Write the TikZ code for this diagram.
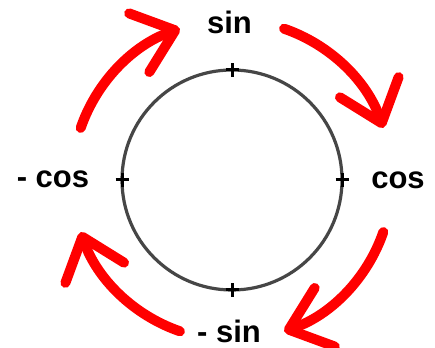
\documentclass[tikz,border=0pt]{standalone}
\usepackage{fontspec}
\setmainfont{Liberation Sans}
\usetikzlibrary{arrows.meta}
\definecolor{turnred}{RGB}{255,0,0}
\definecolor{ringgray}{RGB}{70,70,70}
\tikzset{
  turn/.style={draw=turnred, line width=10pt, line cap=round,
    -{Straight Barb[length=38pt,width=62pt,round]}},
  tick/.style={line width=3pt},
  trig/.style={font=\fontsize{31}{36}\selectfont\bfseries, anchor=base, inner sep=0pt}
}
\begin{document}
\begin{tikzpicture}[x=1pt,y=1pt]
\useasboundingbox (0,0) rectangle (435,347);
\coordinate (c) at (232,167);
\draw[ringgray, line width=3.2pt] (c) circle[radius=110];
% the four marks on the circle
\foreach \a in {0,90,180,270} {
  \coordinate (t\a) at ([shift={(\a:110)}]c);
  \draw[tick] ([xshift=-6.5pt]t\a) -- ([xshift=6.5pt]t\a);
  \draw[tick] ([yshift=-7pt]t\a) -- ([yshift=7pt]t\a);
}
\node[trig] (sin) at (229.5,313) {sin};
\node[trig] (cos) at (398,158) {cos};
\node[trig] (mcos) at (53,159) {- cos};
\node[trig] (msin) at (229,5) {- sin};
% red arrows, clockwise
\foreach \a in {0,90,180,270}
  \draw[turn] ([shift={({\a+71}:160)}]c) arc[start angle={\a+71}, end angle={\a+19}, radius=160];
\end{tikzpicture}
\end{document}
